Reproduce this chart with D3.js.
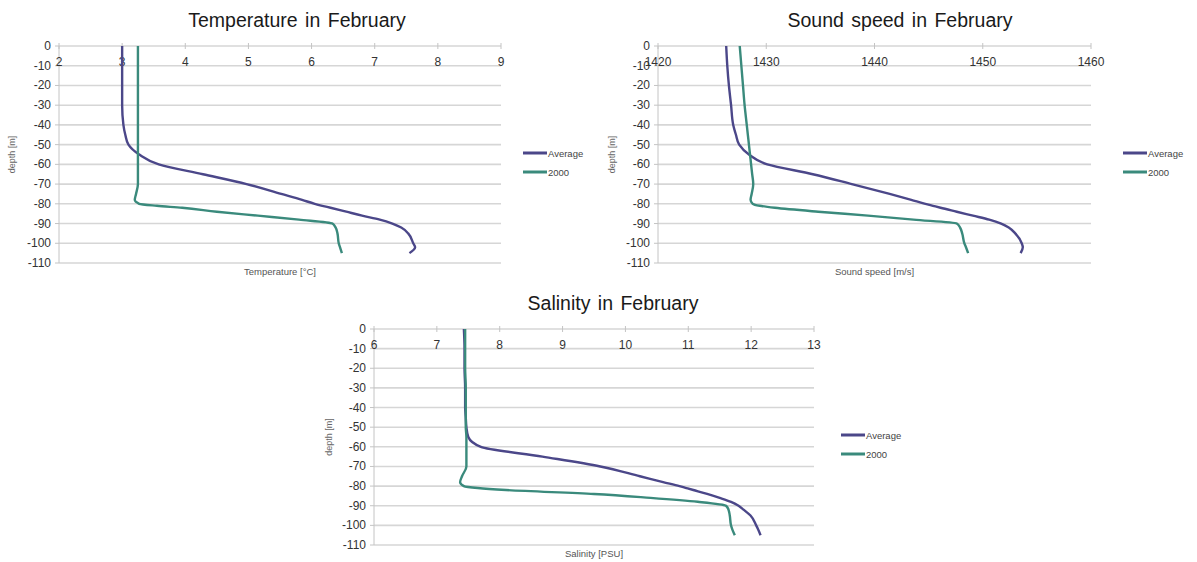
<!DOCTYPE html>
<html>
<head>
  <script src="https://cdnjs.cloudflare.com/ajax/libs/d3/7.8.5/d3.min.js" type="text/javascript"></script>
  <style>
    body { margin: 0; background: #fff; }
    text { font-family: "Liberation Sans", Arial, sans-serif; }
  </style>
</head>
<body>
  <svg id="chart" width="1197" height="562"></svg>
  <script>

// depth of each sample [m]
var depths = [0, -10, -20, -30, -40, -45, -50, -55, -60, -65, -70, -75, -78, -80, -81, -82, -84, -86, -88, -90, -92, -95, -100, -102, -105];

var tempAvg  = [3.00, 3.00, 3.00, 3.00, 3.02, 3.05, 3.10, 3.27, 3.58, 4.28, 4.97, 5.52, 5.85, 6.05, 6.17, 6.30, 6.55, 6.80, 7.08, 7.28, 7.42, 7.53, 7.61, 7.64, 7.55];
var temp2000 = [3.25, 3.25, 3.25, 3.25, 3.25, 3.25, 3.25, 3.25, 3.25, 3.25, 3.25, 3.22, 3.20, 3.27, 3.55, 3.95, 4.50, 5.15, 5.80, 6.33, 6.38, 6.41, 6.43, 6.45, 6.48];

var soundAvg  = [1426.3, 1426.4, 1426.55, 1426.75, 1426.95, 1427.2, 1427.5, 1428.4, 1430.1, 1434.3, 1437.9, 1441.4, 1443.4, 1444.7, 1445.4, 1446.1, 1447.6, 1449.1, 1450.6, 1451.7, 1452.4, 1453.0, 1453.6, 1453.7, 1453.5];
var sound2000 = [1427.55, 1427.7, 1427.85, 1428.0, 1428.2, 1428.3, 1428.4, 1428.5, 1428.6, 1428.7, 1428.8, 1428.65, 1428.55, 1428.75, 1429.4, 1430.8, 1434.8, 1439.4, 1443.6, 1447.6, 1447.9, 1448.1, 1448.3, 1448.45, 1448.65];

var salAvg  = [7.43, 7.44, 7.44, 7.45, 7.45, 7.46, 7.47, 7.50, 7.70, 8.68, 9.60, 10.23, 10.60, 10.86, 10.97, 11.08, 11.30, 11.50, 11.68, 11.80, 11.88, 11.99, 12.08, 12.11, 12.15];
var sal2000 = [7.45, 7.45, 7.45, 7.46, 7.46, 7.46, 7.46, 7.47, 7.47, 7.47, 7.47, 7.40, 7.37, 7.43, 7.65, 8.10, 9.50, 10.40, 11.15, 11.60, 11.64, 11.66, 11.68, 11.70, 11.74];

var depthTicks = [0, -10, -20, -30, -40, -50, -60, -70, -80, -90, -100, -110];
var tempTicks  = [2, 3, 4, 5, 6, 7, 8, 9];
var soundTicks = [1420, 1430, 1440, 1450, 1460];
var salTicks   = [6, 7, 8, 9, 10, 11, 12, 13];

var seriesNames = ["Average", "2000"];
var colors = ["#4b4789", "#3a8a7c"];

var svg = d3.select("#chart");

function drawPanel(p) {
  var x = d3.scaleLinear().domain([p.ticks[0], p.ticks[p.ticks.length - 1]]).range([p.left, p.right]);
  var y = d3.scaleLinear().domain([0, -110]).range([p.top, p.bottom]);

  var g = svg.append("g");

  // title
  g.append("text")
    .attr("x", p.titleX).attr("y", p.top - 19)
    .attr("text-anchor", "middle")
    .style("font-size", "19.5px").style("fill", "#1a1a1a")
    .style("word-spacing", "2px")
    .text(p.title);

  // horizontal gridlines
  g.selectAll(".grid").data(depthTicks).enter().append("line")
    .attr("x1", p.left).attr("x2", p.right)
    .attr("y1", function(d) { return y(d); }).attr("y2", function(d) { return y(d); })
    .style("stroke", "#d6d6d6").style("stroke-width", 1.6);

  // left axis
  g.append("line")
    .attr("x1", p.left).attr("x2", p.left).attr("y1", y(0)).attr("y2", y(-110))
    .style("stroke", "#c4c4c4").style("stroke-width", 1);
  g.selectAll(".ytick").data(depthTicks).enter().append("line")
    .attr("x1", p.left - 4).attr("x2", p.left)
    .attr("y1", function(d) { return y(d); }).attr("y2", function(d) { return y(d); })
    .style("stroke", "#c4c4c4");

  g.selectAll(".ylab").data(depthTicks).enter().append("text")
    .attr("x", p.left - 8).attr("y", function(d) { return y(d) + 4; })
    .attr("text-anchor", "end")
    .style("font-size", "12px").style("fill", "#333")
    .text(function(d) { return d; });

  // top value axis (at depth 0)
  g.selectAll(".xtick").data(p.ticks).enter().append("line")
    .attr("x1", function(d) { return x(d); }).attr("x2", function(d) { return x(d); })
    .attr("y1", y(0) - 3).attr("y2", y(0) + 3)
    .style("stroke", "#c4c4c4");

  g.selectAll(".xlab").data(p.ticks).enter().append("text")
    .attr("x", function(d) { return x(d); }).attr("y", y(0) + 20)
    .attr("text-anchor", "middle")
    .style("font-size", "12px").style("fill", "#333")
    .text(function(d) { return d; });

  // axis titles
  g.append("text")
    .attr("x", (p.left + p.right) / 2).attr("y", p.bottom + 12)
    .attr("text-anchor", "middle")
    .style("font-size", "9.5px").style("fill", "#555")
    .text(p.xTitle);

  g.append("text")
    .attr("transform", "translate(" + p.yTitleX + "," + (p.top + p.bottom) / 2 + ") rotate(-90)")
    .attr("text-anchor", "middle")
    .style("font-size", "9px").style("fill", "#666")
    .text("depth [m]");

  // profiles
  var line = d3.line()
    .x(function(d) { return x(d[0]); })
    .y(function(d) { return y(d[1]); })
    .curve(d3.curveMonotoneY);

  p.series.forEach(function(vals, i) {
    g.append("path")
      .datum(vals.map(function(v, k) { return [v, depths[k]]; }))
      .attr("d", line)
      .style("fill", "none")
      .style("stroke", colors[i])
      .style("stroke-width", 2.4);
  });

  // legend
  var lg = g.selectAll(".leg").data(seriesNames).enter().append("g")
    .attr("transform", function(d, i) { return "translate(" + p.legendX + "," + (p.legendY + i * 19) + ")"; });
  lg.append("line")
    .attr("x1", 0).attr("x2", 24).attr("y1", 0).attr("y2", 0)
    .style("stroke", function(d, i) { return colors[i]; })
    .style("stroke-width", 3);
  lg.append("text")
    .attr("x", 25).attr("y", 3.5)
    .style("font-size", "9.5px").style("fill", "#444")
    .text(function(d) { return d; });
}

drawPanel({
  title: "Temperature in February", titleX: 297,
  left: 59, right: 501, top: 46, bottom: 263,
  ticks: tempTicks, xTitle: "Temperature [\u00b0C]", yTitleX: 15,
  series: [tempAvg, temp2000], legendX: 523, legendY: 153
});

drawPanel({
  title: "Sound speed in February", titleX: 900,
  left: 658, right: 1091, top: 46, bottom: 263,
  ticks: soundTicks, xTitle: "Sound speed [m/s]", yTitleX: 615,
  series: [soundAvg, sound2000], legendX: 1123, legendY: 153
});

drawPanel({
  title: "Salinity in February", titleX: 613,
  left: 374, right: 814, top: 329, bottom: 545,
  ticks: salTicks, xTitle: "Salinity [PSU]", yTitleX: 332,
  series: [salAvg, sal2000], legendX: 841, legendY: 435
});
  </script>
</body>
</html>
